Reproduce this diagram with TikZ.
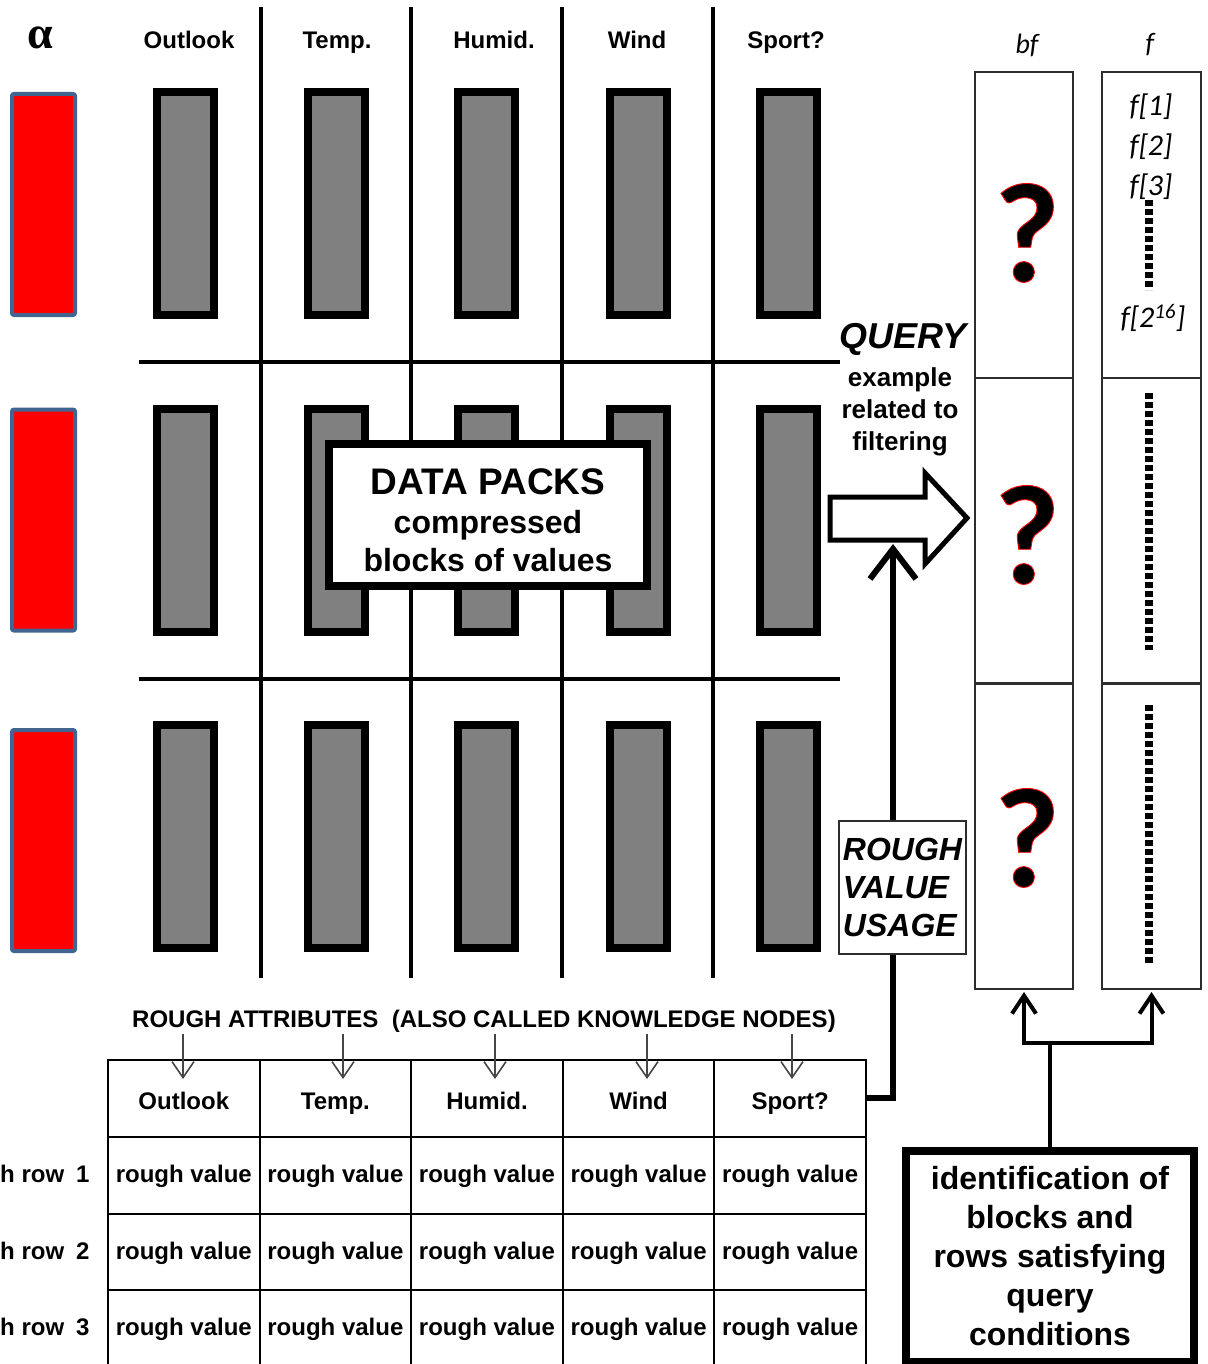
\documentclass[tikz,border=0pt]{standalone}
\usepackage{fontspec}
\setmainfont{Liberation Sans}
\newfontfamily\calib{Carlito}
\newfontfamily\serifgr{Liberation Serif}
\usetikzlibrary{arrows.meta}
\newcommand\pxsize[2]{\fontsize{#1}{#2}\selectfont}
\newcommand\redoutline[1]{\special{pdf:literal direct 1 0 0 RG 0.9 w 2 Tr}#1\special{pdf:literal direct 0 Tr 0 0 0 RG}}
\definecolor{packgray}{RGB}{128,128,128}
\definecolor{redborder}{RGB}{65,100,145}
\definecolor{boxline}{RGB}{45,45,45}
\definecolor{arrgray}{RGB}{70,70,70}
\begin{document}
\begin{tikzpicture}[x=1pt,y=-1pt,
  gridline/.style={line width=4pt, black},
  pack/.style={draw=black, fill=packgray, line width=8pt, minimum width=57pt, minimum height=223pt, inner sep=0pt},
  redblock/.style={draw=redborder, fill=red, line width=4pt, rounded corners=2pt, minimum width=63pt, minimum height=221pt, inner sep=0pt},
  hdr/.style={font=\bfseries\pxsize{24}{28}, inner sep=0pt, anchor=base},
  colbox/.style={draw=boxline, line width=2pt, minimum height=306pt, inner sep=0pt},
  fentry/.style={font=\calib\itshape\pxsize{30}{34}, inner sep=0pt},
  qm/.style={font=\calib\bfseries\pxsize{142}{150}, inner sep=0pt},
  dotcol/.style={line width=8pt, dash pattern=on 6pt off 3pt},
  cell/.style={draw=black, line width=2pt, minimum width=151.6pt, minimum height=76.8pt, inner sep=0pt, font=\bfseries\pxsize{24}{28}, text height=20pt, text depth=6pt},
  hcell/.style={cell, text height=26pt, text depth=3pt},
  smallarr/.style={draw=arrgray, line width=1.6pt, -{Straight Barb[length=16pt,width=22pt]}},
  idconn/.style={line width=4pt, line join=miter},
  idarr/.style={idconn, -{Straight Barb[length=18pt,width=24pt]}, shorten >=2pt},
  bigconn/.style={line width=6pt, line join=miter}
]
\useasboundingbox (0,0) rectangle (1207,1364);

% alpha and column headers
\node[font=\serifgr\bfseries\pxsize{46}{50}, inner sep=0pt] (alpha) at (40,38) {α};
\foreach \t/\x [count=\i] in {Outlook/189,Temp./337,Humid./494,Wind/637,Sport?/786}
  \node[hdr] (top\i) at (\x,49) {\t};

% red alpha blocks
\foreach \y [count=\j] in {204.5,520,840.5}
  \node[redblock] (r\j) at (43.5,\y) {};

% data pack blocks
\foreach \x [count=\i] in {185,336,486.5,638.5,788.5}
  \foreach \y [count=\j] in {203.5,520.5,836}
    \node[pack] (p\i\j) at (\x,\y) {};

% grid lines
\foreach \x in {261,411,562,713}
  \draw[gridline] (\x,7) -- (\x,978);
\draw[gridline] (139,362) -- (840,362);
\draw[gridline] (139,679) -- (840,679);

% DATA PACKS box
\node[draw=black, fill=white, line width=8pt, minimum width=318pt, minimum height=142pt, inner sep=0pt] (dp) at (488,515) {};
\node[align=center, inner sep=0pt, font=\bfseries\pxsize{32}{38}, yshift=-5pt] (dptext) at (dp.center)
  {{\pxsize{37}{42}DATA PACKS}\\[1pt]compressed\\blocks of values};

% QUERY
\node[font=\bfseries\itshape\pxsize{36}{40}, inner sep=0pt] (query) at (903,339) {QUERY};
\node[font=\bfseries\pxsize{26}{32}, align=center, inner sep=0pt] (qtext) at (900,412) {example\\related to\\filtering};

% hollow arrow
\draw[line width=5pt, fill=white, line join=miter] (830,497) -- (925,497) -- (925,473) -- (967,518) -- (925,564) -- (925,540) -- (830,540) -- cycle;
\coordinate (harrowbase) at (893,544);

% bf and f columns
\foreach \y [count=\j] in {225,531,836} {
  \node[colbox, minimum width=98pt] (bf\j) at (1024,\y) {};
  \node[colbox, minimum width=99pt] (f\j) at (1151.5,\y) {};
}
\node[font=\calib\itshape\pxsize{28}{32}, inner sep=0pt] (bflab) at (1027,45) {bf};
\node[font=\calib\itshape\pxsize{28}{32}, inner sep=0pt] (flab) at (1150,45) {f};
\node[fentry] (fa) at (1151,107) {f[1]};
\node[fentry] (fb) at (1151,147) {f[2]};
\node[fentry] (fc) at (1151,187) {f[3]};
\node[fentry] (fd) at (1153,318) {f[2\textsuperscript{16}]};
\draw[dotcol] (1149,200) -- (1149,290);
\draw[dotcol] (1149,393) -- (1149,650);
\draw[dotcol] (1149,705) -- (1149,965);

% question marks
\foreach \y [count=\k] in {233,535,838}
  \node[qm] (q\k) at (1027,\y) {\redoutline{?}};

% ROUGH VALUE USAGE
\node[draw=boxline, line width=2pt, fill=white, minimum width=127pt, minimum height=133pt, inner sep=0pt, align=left, font=\bfseries\itshape\pxsize{32}{38}] (rvu) at (902.5,887.5) {ROUGH\\VALUE\\USAGE};
\draw[bigconn, -{Straight Barb[length=30pt,width=46pt]}] (harrowbase |- rvu.north) -- (harrowbase);

% rough attributes table
\node[font=\bfseries\pxsize{24}{28}, inner sep=0pt] (ratt) at (484,1021) {ROUGH ATTRIBUTES\ \ (ALSO CALLED KNOWLEDGE NODES)};
\foreach \t [count=\i] in {Outlook,Temp.,Humid.,Wind,Sport?} {
  \node[hcell] (th\i) at (108+151.6*\i-75.8,1098.4) {\t};
  \foreach \j in {1,2,3}
    \node[cell] (c\i\j) at (108+151.6*\i-75.8,1098.4+76.8*\j) {rough value};
}
\foreach \x [count=\i] in {183,343,495,647,792} {
  \coordinate (ta\i) at (\x,1034);
  \coordinate (tb\i) at (\x,1079);
  \draw[smallarr] (ta\i) -- (tb\i);
}
\foreach \j in {1,2,3}
  \node[font=\bfseries\pxsize{24}{28}, anchor=base west, inner sep=0pt] (rl\j) at (0,1105.4+76.8*\j) {h row\enspace\j};
\draw[bigconn] (harrowbase |- rvu.south) |- (th5.east);

% identification box
\node[draw=black, fill=white, line width=8pt, minimum width=288pt, minimum height=211pt, inner sep=0pt, align=center, font=\bfseries\pxsize{32}{39}] (idb) at (1050,1256) {identification of\\blocks and\\rows satisfying\\query\\conditions};
\coordinate (jn) at (1050,1043);
\draw[idconn] (idb.north) -- (jn);
\draw[idarr] (jn) -| (bf3.south);
\draw[idarr] (jn) -| (f3.south);
\end{tikzpicture}
\end{document}
